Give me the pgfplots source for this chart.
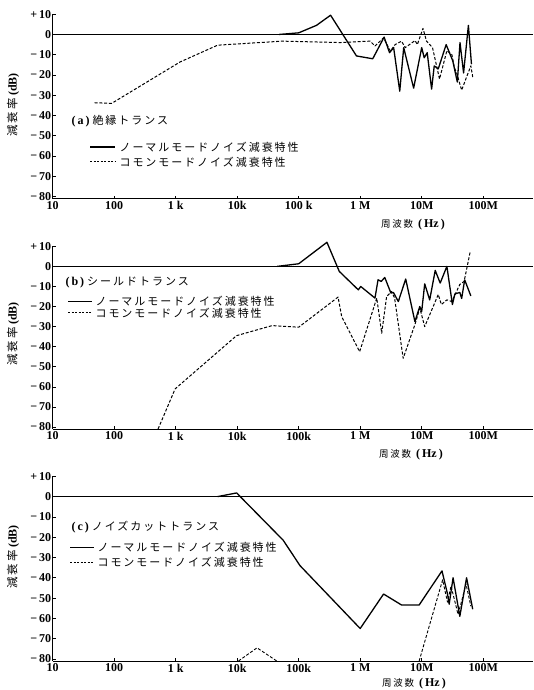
\documentclass[border=0pt]{standalone}
\usepackage{fontspec}
\setmainfont{Liberation Serif}
\newfontfamily\jp{Noto Sans CJK JP}[LetterSpace=18]
\usepackage{pgfplots}
\pgfplotsset{compat=1.18}

\tikzset{
solid data/.style={black, line width=1.3pt, line join=round},
dash data/.style={black, line width=1.0pt, line join=round, dash pattern=on 3pt off 1.8pt},
zero line/.style={black, line width=0.6pt}
}
\newcommand{\lgfont}{\fontsize{11}{13}\selectfont\jp}

\begin{document}
\begin{tikzpicture}[x=1pt,y=1pt]
\useasboundingbox (0,0) rectangle (533,690);

% ---------------- (a) ----------------
\begin{axis}[xmode=log, xmin=10, xmax=6.46e8, ymin=-81, ymax=10,
  width=480.3pt, scale only axis, clip=false,
  axis x line*=bottom, axis y line*=left,
  axis line style={-, line width=0.8pt, black},
  tick align=inside, major tick length=3pt,
  tick style={black, line width=0.6pt},
  xminorticks=false,
  xtick={10,100,1000,1e4,1e5,1e6,1e7,1e8},
  ytick={-80,-70,-60,-50,-40,-30,-20,-10,0,10},
  yticklabels={−\,80,−\,70,−\,60,−\,50,−\,40,−\,30,−\,20,−\,10,0,+\,10},
  ticklabel style={font=\bfseries\fontsize{12}{14}\selectfont},
  yticklabel style={xshift=2pt, inner ysep=0pt},
  xticklabel style={inner ysep=1pt, yshift=-1.8pt},
  at={(52.7pt,491.4pt)}, anchor=south west, height=184.4pt,
  xticklabels={10,100,1 k,10k,100 k,1 M,10M,100M}]
\addplot[zero line] coordinates {(10,0) (6.46e8,0)};
\addplot[solid data] coordinates {
(4.8e4,0) (1e5,0.8) (1.95e5,4.5) (3.3e5,9.5) (8.7e5,-10.6) (1.6e6,-12)
(2.45e6,-1.3) (3.0e6,-9) (3.5e6,-6.5) (4.4e6,-28) (5.1e6,-6.5) (7.4e6,-26.5)
(1.0e7,-6.5) (1.1e7,-11.5) (1.23e7,-9) (1.45e7,-27) (1.6e7,-15.5) (1.86e7,-17)
(2.5e7,-5) (3.2e7,-13) (3.8e7,-23.5) (4.2e7,-4) (4.8e7,-19) (5.75e7,4.5) (6.45e7,-14.7)};
\addplot[dash data] coordinates {
(48,-33.7) (91,-34) (1175,-13.6) (4800,-5.3) (5.4e4,-3.3) (4.7e5,-4)
(1.45e6,-3.3) (1.74e6,-5.7) (2.4e6,-1.7) (3.1e6,-8.2) (3.7e6,-5) (4.7e6,-3.3)
(5.4e6,-6.5) (7.8e6,-3) (8.5e6,-5) (1.05e7,3) (1.2e7,-3.3) (1.5e7,-6.5)
(1.95e7,-22) (2.57e7,-8) (3.1e7,-10) (3.4e7,-16.4) (3.7e7,-19) (4.47e7,-27.5)
(5.37e7,-21) (6.3e7,-15.5) (6.76e7,-21)};
\end{axis}
\node[anchor=west, font=\fontsize{12}{14}\selectfont] at (68,569) {\bfseries (\,a\,)\ {\mdseries\lgfont 絶縁トランス}};
\draw[line width=1.3pt] (90,543) -- (115,543);
\node[anchor=west, font=\lgfont] at (116,543) {ノーマルモードノイズ減衰特性};
\draw[line width=1.0pt, dash pattern=on 2pt off 1.5pt] (90,528) -- (115,528);
\node[anchor=west, font=\lgfont] at (116,528) {コモンモードノイズ減衰特性};
\node[rotate=90] at (13,585) {{\fontsize{11.5}{13}\selectfont\jp 減衰率}\ {\fontsize{12}{14}\selectfont\bfseries (dB)}};
\node at (413,465.5) {{\fontsize{9.5}{12}\selectfont\jp 周波数}\ \ {\fontsize{12}{14}\selectfont\bfseries (\,Hz\,)}};

% ---------------- (b) ----------------
\begin{axis}[xmode=log, xmin=10, xmax=6.46e8, ymin=-81, ymax=10,
  width=480.3pt, scale only axis, clip=false,
  axis x line*=bottom, axis y line*=left,
  axis line style={-, line width=0.8pt, black},
  tick align=inside, major tick length=3pt,
  tick style={black, line width=0.6pt},
  xminorticks=false,
  xtick={10,100,1000,1e4,1e5,1e6,1e7,1e8},
  ytick={-80,-70,-60,-50,-40,-30,-20,-10,0,10},
  yticklabels={−\,80,−\,70,−\,60,−\,50,−\,40,−\,30,−\,20,−\,10,0,+\,10},
  ticklabel style={font=\bfseries\fontsize{12}{14}\selectfont},
  yticklabel style={xshift=2pt, inner ysep=0pt},
  xticklabel style={inner ysep=1pt, yshift=-1.8pt},
  at={(52.7pt,261pt)}, anchor=south west, height=182.7pt,
  xticklabels={10,100,1 k,10k,100k,1 M,10M,100M}]
\addplot[zero line] coordinates {(10,0) (6.46e8,0)};
\addplot[solid data] coordinates {
(4.47e4,0) (1e5,1.3) (2.88e5,12) (4.57e5,-2.5) (9.33e5,-11.7) (1.02e6,-10)
(1.74e6,-15.8) (1.95e6,-6.7) (2.2e6,-7.5) (2.51e6,-5.5) (3.16e6,-13.3) (3.47e6,-13)
(4.17e6,-17.5) (5.5e6,-6.3) (7.76e6,-27.5) (9.3e6,-20) (1.0e7,-22.5) (1.12e7,-8.7)
(1.35e7,-16.7) (1.66e7,-2) (2.0e7,-8.3) (2.57e7,0) (3.16e7,-19) (3.47e7,-13.7)
(4.17e7,-13) (4.47e7,-16) (5.0e7,-6.7) (6.3e7,-14.7)};
\addplot[dash data] coordinates {
(517,-81) (980,-61) (9770,-34.5) (3.7e4,-29.5) (1e5,-30.3) (4.37e5,-15.3)
(5.0e5,-25) (9.8e5,-42.5) (1.86e6,-15.8) (2.24e6,-33.3) (2.69e6,-15) (3.24e6,-12.5)
(3.63e6,-15.8) (5.0e6,-45.8) (7.76e6,-29) (9.33e6,-20.8) (1.12e7,-30) (1.86e7,-14)
(2.09e7,-19) (2.57e7,-16.7) (3.09e7,-17.5) (4.17e7,-9) (4.9e7,-7.5) (6.17e7,7.5)};
\end{axis}
\node[anchor=west, font=\fontsize{12}{14}\selectfont] at (62,407.3) {\bfseries (\,b\,)\ {\mdseries\lgfont シールドトランス}};
\draw[line width=1.3pt] (68,388.6) -- (92,388.6);
\node[anchor=west, font=\lgfont] at (92,388.6) {ノーマルモードノイズ減衰特性};
\draw[line width=1.0pt, dash pattern=on 2pt off 1.5pt] (68,377) -- (92,377);
\node[anchor=west, font=\lgfont] at (92,377) {コモンモードノイズ減衰特性};
\node[rotate=90] at (13,356) {{\fontsize{11.5}{13}\selectfont\jp 減衰率}\ {\fontsize{12}{14}\selectfont\bfseries (dB)}};
\node at (411,235.5) {{\fontsize{9.5}{12}\selectfont\jp 周波数}\ \ {\fontsize{12}{14}\selectfont\bfseries (\,Hz\,)}};

% ---------------- (c) ----------------
\begin{axis}[xmode=log, xmin=10, xmax=6.46e8, ymin=-81, ymax=10,
  width=480.3pt, scale only axis, clip=false,
  axis x line*=bottom, axis y line*=left,
  axis line style={-, line width=0.8pt, black},
  tick align=inside, major tick length=3pt,
  tick style={black, line width=0.6pt},
  xminorticks=false,
  xtick={10,100,1000,1e4,1e5,1e6,1e7,1e8},
  ytick={-80,-70,-60,-50,-40,-30,-20,-10,0,10},
  yticklabels={−\,80,−\,70,−\,60,−\,50,−\,40,−\,30,−\,20,−\,10,0,+\,10},
  ticklabel style={font=\bfseries\fontsize{12}{14}\selectfont},
  yticklabel style={xshift=2pt, inner ysep=0pt},
  xticklabel style={inner ysep=1pt, yshift=-1.8pt},
  at={(52.7pt,29pt)}, anchor=south west, height=184.7pt,
  xticklabels={10,100,1 k,10k,100k,1 M,10M,100M}]
\addplot[zero line] coordinates {(10,0) (6.46e8,0)};
\addplot[solid data] coordinates {
(4800,0) (9800,1.8) (5.6e4,-21.5) (1.05e5,-34) (1e6,-65) (2.4e6,-48)
(4.7e6,-53.4) (9.1e6,-53.4) (2.14e7,-36.6) (2.63e7,-48) (2.8e7,-53) (3.24e7,-40)
(4.17e7,-59) (5.37e7,-40) (6.76e7,-55.5)};
\addplot[dash data, line width=0.9pt] coordinates {
(1.05e4,-81) (2.1e4,-74.5) (4.4e4,-81)};
\addplot[dash data, line width=0.9pt] coordinates {
(9.1e6,-81) (2.19e7,-41) (2.63e7,-52) (3.0e7,-44) (3.9e7,-58) (4.6e7,-50)
(5.25e7,-43) (6.3e7,-54)};
\end{axis}
\node[anchor=west, font=\fontsize{12}{14}\selectfont] at (68,163.3) {\bfseries (\,c\,)\ {\mdseries\lgfont ノイズカットトランス}};
\draw[line width=1.3pt] (70,142.3) -- (94,142.3);
\node[anchor=west, font=\lgfont] at (94,142.3) {ノーマルモードノイズ減衰特性};
\draw[line width=1.0pt, dash pattern=on 2pt off 1.5pt] (70,127.7) -- (94,127.7);
\node[anchor=west, font=\lgfont] at (94,127.7) {コモンモードノイズ減衰特性};
\node[rotate=90] at (13,133) {{\fontsize{11.5}{13}\selectfont\jp 減衰率}\ {\fontsize{12}{14}\selectfont\bfseries (dB)}};
\node at (414,6) {{\fontsize{9.5}{12}\selectfont\jp 周波数}\ \ {\fontsize{12}{14}\selectfont\bfseries (\,Hz\,)}};
\end{tikzpicture}
\end{document}
